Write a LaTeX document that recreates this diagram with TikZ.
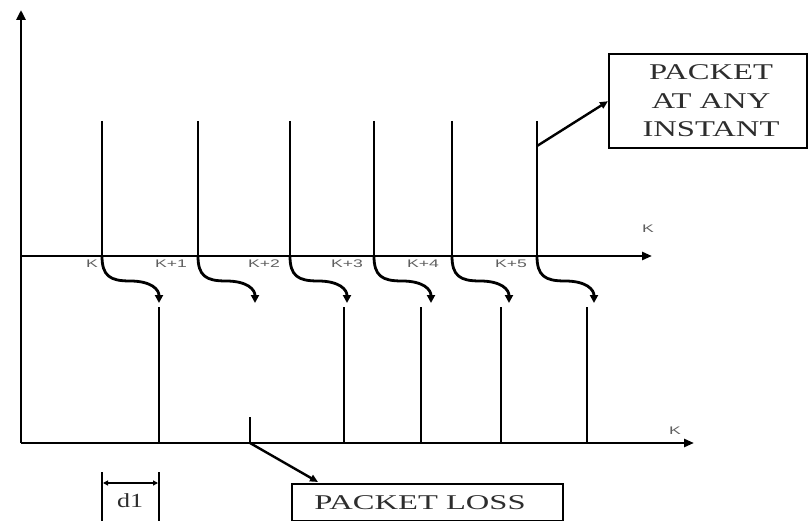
\documentclass[tikz,border=0pt]{standalone}
\usepackage{fontspec}
\setmainfont{Liberation Serif}
\newfontfamily\lblfont[FakeStretch=1.6]{Liberation Sans}
\newfontfamily\boxfont[FakeStretch=1.45]{Liberation Serif}
\newfontfamily\lossfont[FakeStretch=1.55]{Liberation Serif}
\newfontfamily\dfont[FakeStretch=1.3]{Liberation Serif}
\usetikzlibrary{arrows.meta}
\definecolor{lblgrey}{RGB}{95,95,95}
\definecolor{boxtext}{RGB}{45,45,45}
\tikzset{
  axisline/.style={line width=2.6pt,black},
  pulseline/.style={line width=2.9pt,black},
  curveline/.style={line width=2.8pt,black,-{Triangle[length=8pt,width=8pt]}},
  tipline/.style={line width=2.4pt,black,-{Triangle[length=8pt,width=7pt]}},
  klabel/.style={font=\lblfont\fontsize{11}{12}\selectfont,text=lblgrey,inner sep=0pt},
  boxframe/.style={draw,line width=2.4pt,inner sep=0pt},
}
\begin{document}
\begin{tikzpicture}[x=1pt,y=-1pt]
\useasboundingbox (0,0) rectangle (808,521);
% axes
\coordinate (O) at (21,443);
\coordinate (Ytop) at (21,10);
\coordinate (U0) at (21,256);
\coordinate (Uend) at (652,256);
\coordinate (Lend) at (694,443);
\draw[axisline,-{Triangle[length=10pt,width=9pt]}] (O) -- (Ytop);
\draw[axisline,-{Triangle[length=10pt,width=8pt]}] (U0) -- (Uend);
\draw[axisline,-{Triangle[length=10pt,width=8pt]}] (O) -- (Lend);
\node[klabel] (kup) at (648,229) {K};
\node[klabel] (klow) at (675,431) {K};
% upper pulses and delay curves
\foreach \i/\x/\lab/\lx in {1/102/K/92, 2/198/K+1/171, 3/290/K+2/264, 4/374/K+3/347, 5/452/K+4/423, 6/537/K+5/511}{
  \coordinate (t\i) at (\x,121);
  \coordinate (b\i) at (\x,256);
  \coordinate (m\i) at (\x+28,281);
  \coordinate (e\i) at (\x+57,303);
  \draw[pulseline] (t\i) -- (b\i);
  \draw[curveline] (b\i) .. controls (\x,276) and (\x+8,281) .. (m\i) .. controls (\x+50,281) and (\x+57,290) .. (e\i);
  \node[klabel] (k\i) at (\lx,264) {\lab};
}
% lower pulses
\foreach \i/\x in {1/159, 3/344, 4/421, 5/501, 6/587}{
  \coordinate (r\i) at (\x,307);
  \coordinate (g\i) at (\x,443);
  \draw[pulseline] (r\i) -- (g\i);
}
\coordinate (loss) at (250,417);
\coordinate (lossb) at (250,443);
\draw[pulseline] (loss) -- (lossb);
% packet at any instant
\node[boxframe,minimum width=198pt,minimum height=94pt,anchor=north west] (pai) at (608,53) {};
\node[font=\boxfont\fontsize{22.5}{28.5}\selectfont,text=boxtext,align=center,inner sep=0pt,anchor=base] (paitext) at (711,137) {PACKET\\AT ANY\\INSTANT};
\coordinate (paistart) at (537,146);
\draw[tipline] (paistart) -- (pai.west);
% packet loss
\node[boxframe,minimum width=271pt,minimum height=37pt,anchor=north west] (pl) at (291,483) {};
\node[font=\lossfont\fontsize{21}{24}\selectfont,text=boxtext,inner sep=0pt,anchor=base] (pltext) at (420,509) {PACKET LOSS};
\coordinate (plend) at (318,482);
\draw[tipline] (lossb) -- (plend);
% d1 dimension
\coordinate (d1a) at (102,472);
\coordinate (d1b) at (159,472);
\coordinate (d1c) at (102,523);
\coordinate (d1d) at (159,523);
\coordinate (d1l) at (103,483);
\coordinate (d1r) at (158,483);
\draw[line width=2.6pt] (d1a) -- (d1c);
\draw[line width=2.6pt] (d1b) -- (d1d);
\draw[line width=1.2pt,{Triangle[length=5pt,width=5pt]}-{Triangle[length=5pt,width=5pt]}] (d1l) -- (d1r);
\node[font=\dfont\fontsize{20}{22}\selectfont,text=boxtext,inner sep=0pt,anchor=base] (d1) at (130,507) {d1};
\end{tikzpicture}
\end{document}
